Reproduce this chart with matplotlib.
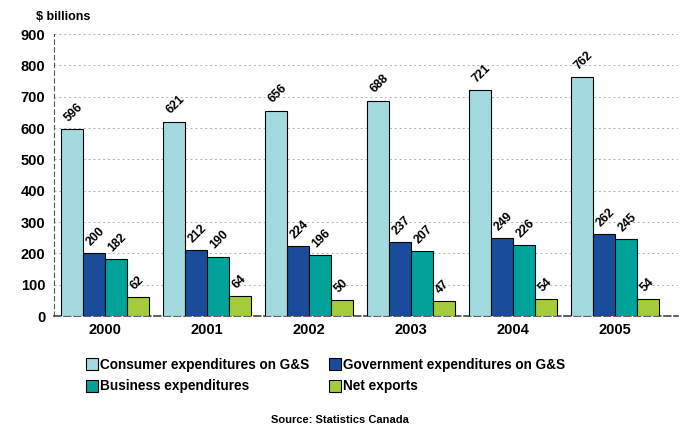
import matplotlib.pyplot as plt
import numpy as np

plt.rcParams['font.family'] = ['Liberation Sans', 'DejaVu Sans']

years = ['2000', '2001', '2002', '2003', '2004', '2005']
consumer = [596, 621, 656, 688, 721, 762]
government = [200, 212, 224, 237, 249, 262]
business = [182, 190, 196, 207, 226, 245]
net_exports = [62, 64, 50, 47, 54, 54]

series = [consumer, government, business, net_exports]
names = ['Consumer expenditures on G&S', 'Government expenditures on G&S',
         'Business expenditures', 'Net exports']
colors = ['#a3dadf', '#1b4b9b', '#00a29a', '#a5cd3b']

fig = plt.figure(figsize=(6.8, 4.26), dpi=100)
ax = fig.add_axes([0.079, 0.258, 0.918, 0.662])

x = np.arange(len(years))
w = 0.215
offsets = [-1.5 * w, -0.5 * w, 0.5 * w, 1.5 * w]

for vals, name, col, off in zip(series, names, colors, offsets):
    bars = ax.bar(x + off, vals, w, color=col, edgecolor='black', linewidth=0.8,
                  label=name, zorder=3)
    # value labels tilted 45 degrees, starting at the bar's left corner
    for b, v in zip(bars, vals):
        ax.text(b.get_x() + 0.095, v + 16, str(v), rotation=45,
                ha='left', va='bottom', fontsize=8.8, fontweight='bold',
                rotation_mode='anchor', zorder=4)

ax.set_ylim(0, 900)
ax.set_xlim(-0.5, 5.62)
ax.set_yticks(range(0, 901, 100))
ax.set_xticks(x)
ax.set_xticklabels(years)
ax.tick_params(axis='y', length=0, labelsize=10.5, pad=6)
ax.tick_params(axis='x', length=0, labelsize=10.5, pad=5)
for lab in ax.get_xticklabels() + ax.get_yticklabels():
    lab.set_fontweight('bold')

ax.yaxis.grid(True, linestyle=(0, (2, 3)), color='#b0b0b0', linewidth=0.7, zorder=0)
for s in ['top', 'right']:
    ax.spines[s].set_visible(False)
ax.spines['left'].set_linestyle((0, (4, 3)))
ax.spines['left'].set_color('#555555')
ax.spines['bottom'].set_linestyle((0, (4, 2)))
ax.spines['bottom'].set_color('#444444')
ax.spines['bottom'].set_linewidth(1.2)

fig.text(0.053, 0.96, '$ billions', fontsize=9, fontweight='bold', ha='left', va='center')

handles = [plt.Line2D([], [], marker='s', linestyle='', markersize=8,
                      markerfacecolor=c, markeredgecolor='black', markeredgewidth=0.8)
           for c in colors]
# ncol fills column by column, so reorder to read across the rows
order = [0, 2, 1, 3]
fig.legend([handles[i] for i in order], [names[i] for i in order],
           loc='center left', bbox_to_anchor=(0.107, 0.118),
           ncol=2, frameon=False, prop={'weight': 'bold', 'size': 9.8},
           handletextpad=0.1, columnspacing=1.4, labelspacing=0.55, handlelength=1.0)

fig.text(0.5, 0.003, 'Source: Statistics Canada', fontsize=8, fontweight='bold',
         ha='center', va='bottom')

fig.savefig('out.png', dpi=100)
